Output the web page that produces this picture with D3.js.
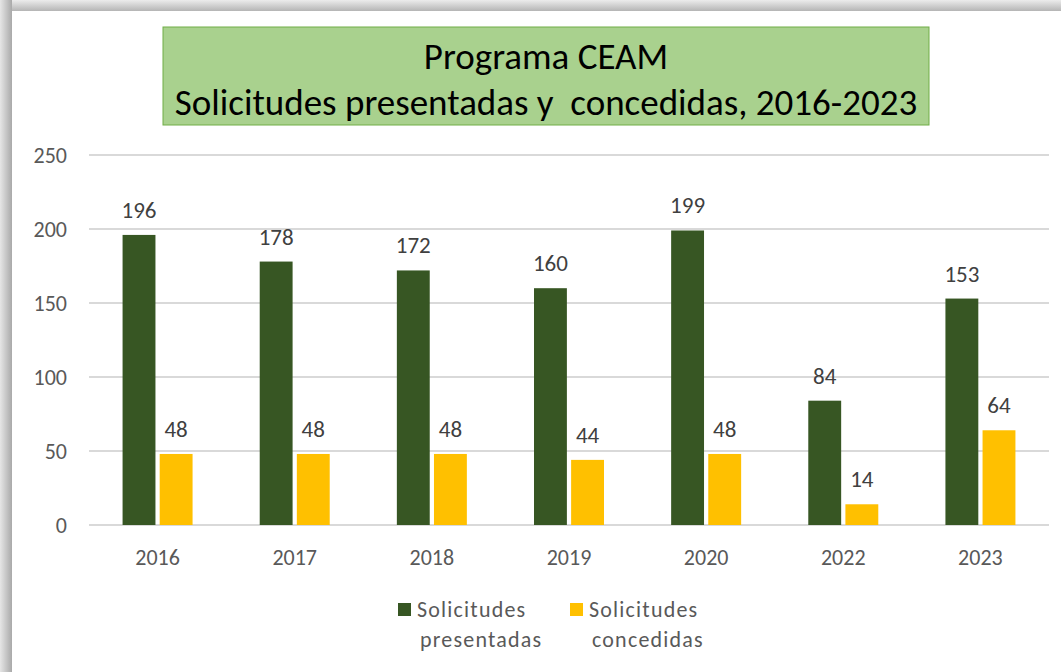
<!DOCTYPE html>
<html>
<head>
<meta charset="utf-8">
<script src="https://cdn.jsdelivr.net/npm/d3@7"></script>
<style>
  body { margin: 0; background: #fff; }
  svg { display: block; }
  text { white-space: pre; }
</style>
</head>
<body>
<script>
const years = ["2016", "2017", "2018", "2019", "2020", "2022", "2023"];
const presentadas = [196, 178, 172, 160, 199, 84, 153];
const concedidas = [48, 48, 48, 44, 48, 14, 64];
const yTicks = [0, 50, 100, 150, 200, 250];
const seriesNames = [["Solicitudes", "presentadas"], ["Solicitudes", "concedidas"]];
const colors = ["#375623", "#ffc000"];

const W = 1061, H = 672;
const font = "Carlito, Lato, 'Liberation Sans', sans-serif";

const svg = d3.select("body").append("svg")
  .attr("width", W).attr("height", H);

// shadow frame on left / top
const defs = svg.append("defs");
const gl = defs.append("linearGradient").attr("id", "shL");
gl.append("stop").attr("offset", "0").attr("stop-color", "#e6e6e6");
gl.append("stop").attr("offset", "1").attr("stop-color", "#a9a9a9");
const gt = defs.append("linearGradient").attr("id", "shT")
  .attr("x1", 0).attr("y1", 0).attr("x2", 0).attr("y2", 1);
gt.append("stop").attr("offset", "0").attr("stop-color", "#ececec");
gt.append("stop").attr("offset", "1").attr("stop-color", "#b5b5b5");

svg.append("rect").attr("x", 0).attr("y", 0).attr("width", W).attr("height", 11).attr("fill", "url(#shT)");
svg.append("rect").attr("x", 0).attr("y", 0).attr("width", 12).attr("height", H).attr("fill", "url(#shL)");
svg.append("rect").attr("x", 12).attr("y", 11).attr("width", W - 12).attr("height", H - 11).attr("fill", "#fff");

// title box
svg.append("rect")
  .attr("x", 163).attr("y", 27).attr("width", 766).attr("height", 98)
  .attr("fill", "#a9d18e").attr("stroke", "#70ad47").attr("stroke-width", 1);
const title = svg.append("text")
  .attr("text-anchor", "middle")
  .attr("font-family", font).attr("font-size", 37).attr("fill", "#000");
title.append("tspan").attr("x", 546).attr("y", 69).text("Programa CEAM");
title.append("tspan").attr("x", 546).attr("y", 115).text("Solicitudes presentadas y  concedidas, 2016-2023");

// scales
const x = d3.scaleBand().domain(years).range([89, 1049]);
const y = d3.scaleLinear().domain([0, 250]).range([525, 155]);
const barW = 31, gap = 8;
const groupW = barW * 2 + gap;
const x1 = d3.scaleBand().domain([0, 1]).range([0, groupW]).paddingInner(gap / groupW);

// gridlines
svg.append("g").selectAll("line")
  .data(yTicks)
  .join("line")
  .attr("x1", 89).attr("x2", 1049)
  .attr("y1", d => y(d)).attr("y2", d => y(d))
  .attr("stroke", "#d9d9d9").attr("stroke-width", 2);

// y labels
svg.append("g").selectAll("text")
  .data(yTicks)
  .join("text")
  .attr("x", 67).attr("y", d => y(d))
  .attr("dy", "0.35em")
  .attr("text-anchor", "end")
  .attr("font-family", font).attr("font-size", 22).attr("fill", "#595959")
  .text(d => d);

// x labels
svg.append("g").selectAll("text")
  .data(years)
  .join("text")
  .attr("x", d => x(d) + x.bandwidth() / 2)
  .attr("y", 565)
  .attr("text-anchor", "middle")
  .attr("font-family", font).attr("font-size", 22).attr("fill", "#595959")
  .text(d => d);

// bars
const rows = years.map((yr, i) => ({ yr, vals: [presentadas[i], concedidas[i]] }));
const groups = svg.append("g").selectAll("g")
  .data(rows)
  .join("g")
  .attr("transform", d => `translate(${x(d.yr) + (x.bandwidth() - groupW) / 2},0)`);

groups.selectAll("rect")
  .data(d => d.vals.map((v, s) => ({ v, s })))
  .join("rect")
  .attr("x", d => x1(d.s))
  .attr("width", x1.bandwidth())
  .attr("y", d => y(d.v))
  .attr("height", d => y(0) - y(d.v))
  .attr("fill", d => colors[d.s]);

groups.selectAll("text")
  .data(d => d.vals.map((v, s) => ({ v, s })))
  .join("text")
  .attr("x", d => x1(d.s) + x1.bandwidth() / 2)
  .attr("y", d => y(d.v) - 17)
  .attr("text-anchor", "middle")
  .attr("font-family", font).attr("font-size", 23).attr("fill", "#404040")
  .text(d => d.v);

// legend
const legX = [398, 570];
const leg = svg.append("g").selectAll("g")
  .data(seriesNames)
  .join("g")
  .attr("transform", (d, i) => `translate(${legX[i]},0)`);
leg.append("rect")
  .attr("x", 0).attr("y", 603).attr("width", 13).attr("height", 13)
  .attr("fill", (d, i) => colors[i]);
leg.append("text")
  .attr("font-family", font).attr("font-size", 22).attr("fill", "#595959")
  .attr("letter-spacing", 1.2)
  .selectAll("tspan")
  .data(d => d)
  .join("tspan")
  .attr("x", (d, i) => i === 0 ? 19 : 22)
  .attr("y", (d, i) => 617 + i * 30)
  .text(d => d);
</script>
</body>
</html>
